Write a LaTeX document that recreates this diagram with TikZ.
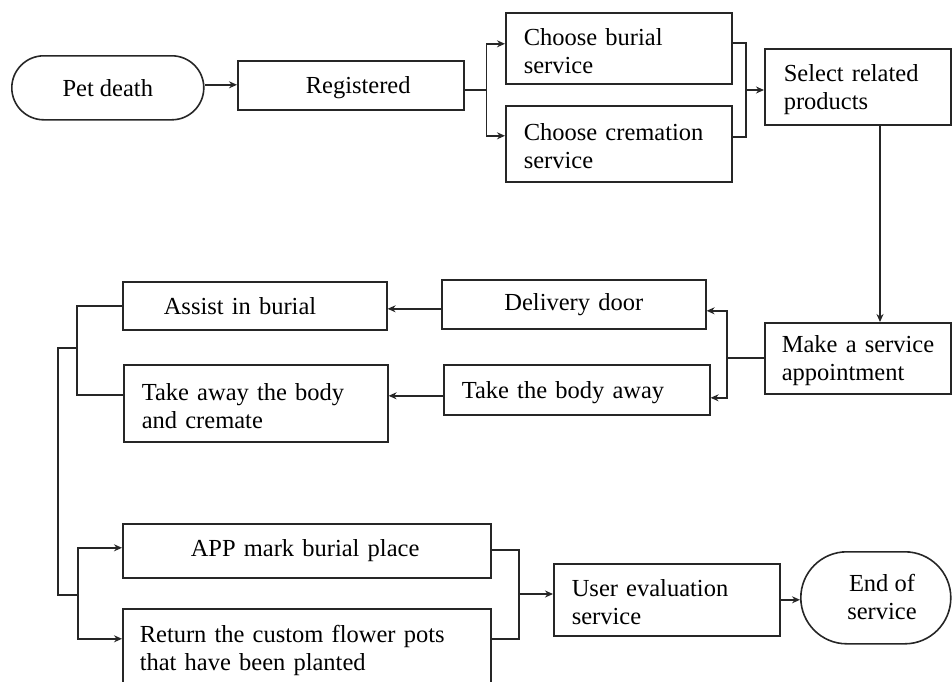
\documentclass[tikz,border=0pt]{standalone}
\usepackage{fontspec}
\setmainfont{Liberation Serif}
\usetikzlibrary{arrows.meta}
\begin{document}
\begin{tikzpicture}[x=1pt,y=-1pt,
  line width=1.6pt, draw=black!85,
  font=\fontsize{24.5}{28}\selectfont,
  bx/.style={draw=black!85, anchor=north west, inner ysep=0pt, align=left, inner xsep=#1},
  bx/.default=18pt,
  low/.style={text height=22pt},
  cbx/.style={draw=black!85, anchor=north west, inner ysep=0pt, inner xsep=0pt, align=center},
  term/.style={draw=black!85, anchor=north west, inner sep=0pt, align=center},
  arr/.style={-{Stealth[length=8pt,width=7pt]}}]
\useasboundingbox (0,0) rectangle (952,681);
\clip (0,0) rectangle (952,681);

% nodes
\node[term, rounded corners=32pt, minimum width=192pt, minimum height=64pt] (pet) at (11,55) {Pet death};
\node[bx=68pt, low, text width=90pt, minimum height=49pt] (reg) at (237,60) {\mbox{Registered}};
\node[bx, low, text width=190pt, minimum height=71pt] (burial) at (505,12) {\mbox{Choose burial}\\\mbox{service}};
\node[bx, low, text width=190pt, minimum height=76pt] (crem) at (505,105) {\mbox{Choose cremation}\\\mbox{service}};
\node[bx=19pt, low, text width=148pt, minimum height=76pt] (sel) at (764,48) {\mbox{Select related}\\\mbox{products}};
\node[bx=17pt, low, text width=152pt, minimum height=71pt] (make) at (764,322) {\mbox{Make a service}\\\mbox{appointment}};
\node[cbx, text width=264pt, minimum height=49pt] (deliv) at (441,279) {\mbox{Delivery door}};
\node[bx, low, text width=230pt, minimum height=50pt] (takeaway) at (443,364) {\mbox{Take the body away}};
\node[bx=41pt, text width=182pt, minimum height=48pt] (assist) at (122,281) {\mbox{Assist in burial}};
\node[bx, low, text width=228pt, minimum height=77pt] (cremate) at (123,364) {\mbox{Take away the body}\\\mbox{and cremate}};
\node[bx=68pt, text width=232pt, minimum height=54pt] (app) at (122,523) {\mbox{APP mark burial place}};
\node[bx=17pt, low, text width=334pt, minimum height=78pt] (ret) at (122,608) {\mbox{Return the custom flower pots}\\\mbox{that have been planted}};
\node[bx, low, text width=190pt, minimum height=72pt] (user) at (553,563) {\mbox{User evaluation}\\\mbox{service}};
\node[term, rounded corners=46pt, minimum width=150pt, minimum height=92pt] (endsvc) at (800,551) {};
\node[align=center, inner sep=0pt] (endtxt) at (882,597) {End of\\service};

% connectors
\draw[arr] ([yshift=0.5pt]reg.west -| pet.east) -- ([yshift=0.5pt]reg.west);

\draw ([yshift=-4.5pt]reg.east) -- ++(22,0) coordinate (j1);
\draw[arr] (j1) |- ([yshift=4.5pt]burial.west);
\draw[arr] (j1) |- ([yshift=8pt]crem.west);

\coordinate (j2) at (746,90);
\draw ([yshift=5.5pt]burial.east) -| (j2) |- ([yshift=7pt]crem.east);
\draw[arr] (j2) -- (j2 -| sel.west);

\coordinate (j3) at (880,0);
\draw[arr] (sel.south -| j3) -- (make.north -| j3);

\draw ([yshift=0.5pt]make.west) -- ++(-37,0) coordinate (j4);
\draw[arr] (j4) |- ([yshift=-6.5pt]deliv.east);
\draw[arr] (j4) |- ([yshift=-8pt]takeaway.east);

\draw[arr] ([yshift=-4.5pt]deliv.west) -- ([yshift=-4.5pt]deliv.west -| assist.east);
\draw[arr] ([yshift=-6pt]takeaway.west) -- ([yshift=-6pt]takeaway.west -| cremate.east);

\coordinate (k1) at (77,348);
\draw (assist.west) -| (k1) |- ([yshift=8.5pt]cremate.west);
\coordinate (k2) at (58,595);
\draw (k1) -- (k1 -| k2) -- (k2) -- ++(20,0) coordinate (k3);
\draw[arr] (k3) |- ([yshift=3pt]app.west);
\draw[arr] (k3) |- ([yshift=9pt]ret.west);

\coordinate (m1) at (519,594);
\draw ([yshift=1pt]app.east) -| (m1) |- ([yshift=9pt]ret.east);
\draw[arr] (m1) -- (m1 -| user.west);
\draw[arr] (user.east) -- (user.east -| endsvc.west);
\end{tikzpicture}
\end{document}
